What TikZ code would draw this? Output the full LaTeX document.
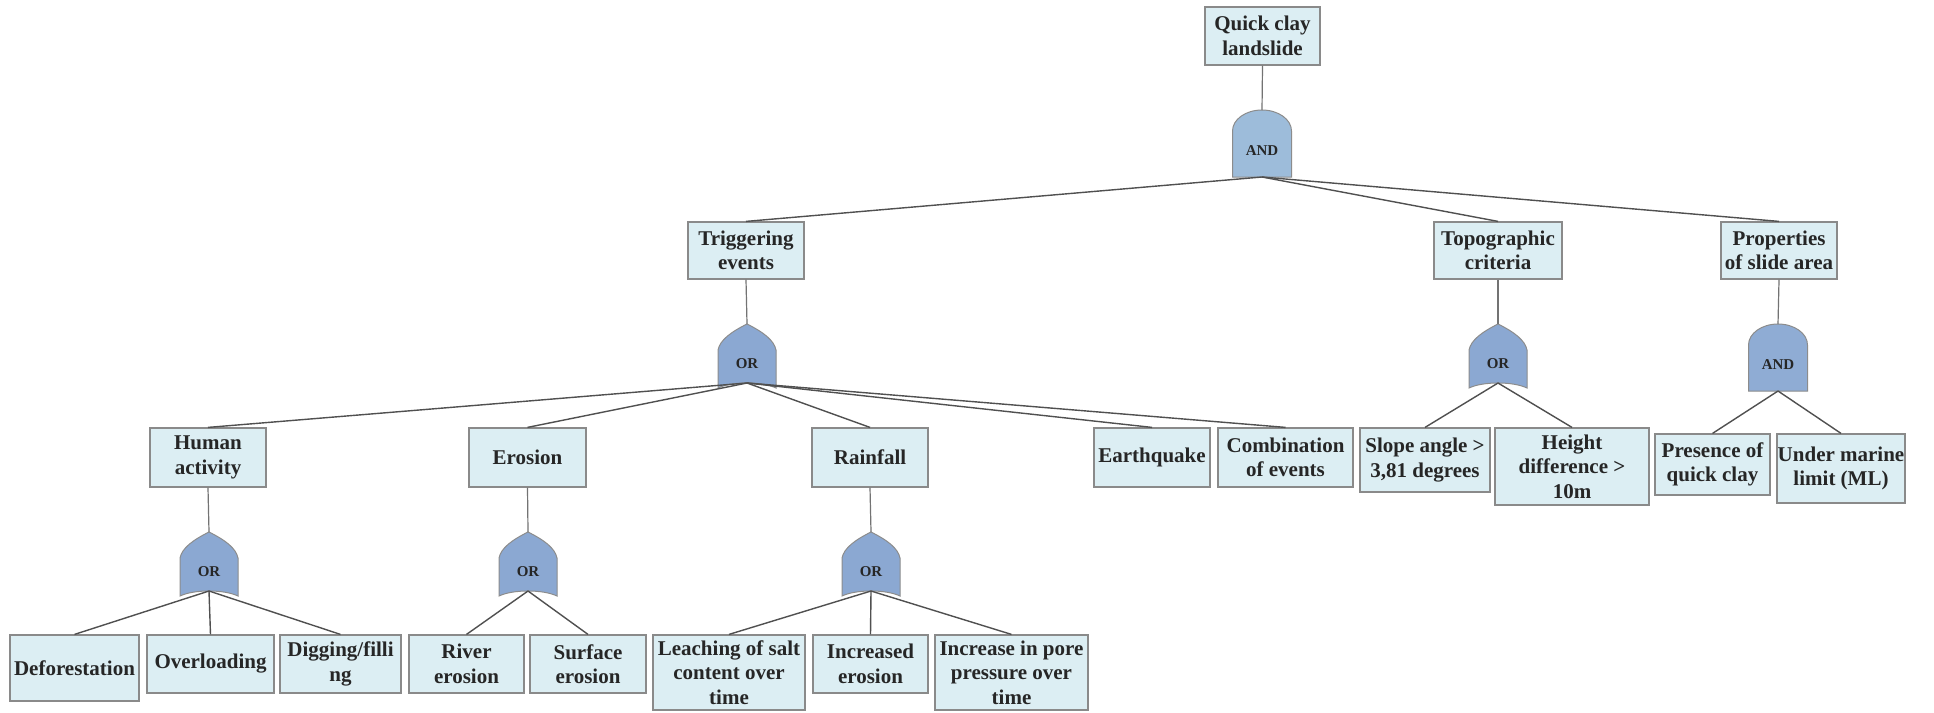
\documentclass[tikz,border=0pt]{standalone}
\usepackage{fontspec}
\setmainfont{Liberation Serif}
\usetikzlibrary{shadows}

\definecolor{boxfill}{HTML}{DCEEF3}
\definecolor{boxline}{HTML}{8A8A8A}
\definecolor{orfill}{HTML}{8BA8D2}
\definecolor{andfill}{HTML}{9DBCDA}
\definecolor{andfilltwo}{HTML}{8FACD4}
\definecolor{wire}{HTML}{505050}
\definecolor{txt}{HTML}{262626}

\tikzset{
  ev/.style={draw=boxline, fill=boxfill, line width=1.2pt, inner sep=0pt,
    align=center, font=\fontsize{21}{24.5}\selectfont\bfseries, text=txt,
    drop shadow={shadow xshift=1.2pt, shadow yshift=-1.2pt, fill=black!55, opacity=0.7}},
  wirelink/.style={draw=wire, line width=1.4pt},
  stem/.style={draw=black!55, line width=1.2pt},
  gatelbl/.style={font=\fontsize{15}{15}\selectfont\bfseries, text=txt, inner sep=0pt},
  gateshape/.style={draw=black!45, line width=1pt},
  pics/orgate/.style={code={
    \path[gateshape, fill=orfill]
      (0,-32) .. controls (16,-24) and (27,-16) .. (29,-6) -- (29,32)
      .. controls (15,25.3) and (-15,25.3) .. (-29,32) -- (-29,-6)
      .. controls (-27,-16) and (-16,-24) .. (0,-32) -- cycle;
    \node[gatelbl] at (0,8) {OR};
    \coordinate (-top) at (0,-32);
    \coordinate (-bot) at (0,27);
  }},
  pics/andgate/.style={code={
    \path[gateshape, fill=#1]
      (-29.5,33.5) -- (-29.5,-12.5)
      arc[start angle=180, end angle=360, x radius=29.5, y radius=21]
      -- (29.5,33.5) -- cycle;
    \node[gatelbl] at (0,7) {AND};
    \coordinate (-top) at (0,-33.5);
    \coordinate (-bot) at (0,33.5);
  }},
}

\begin{document}
\begin{tikzpicture}[x=1pt, y=-1pt]
  \useasboundingbox[fill=white] (0,0) rectangle (1934,712);

  % top event
  \node[ev, minimum width=115pt, minimum height=58pt] (top) at (1262.5,36) {Quick clay\\landslide};

  % intermediate events
  \node[ev, minimum width=116pt, minimum height=57pt] (trig)  at (746,250.5)  {Triggering\\events};
  \node[ev, minimum width=128pt, minimum height=57pt] (topo)  at (1498,250.5) {Topographic\\criteria};
  \node[ev, minimum width=116pt, minimum height=57pt] (props) at (1779,250.5) {Properties\\of slide area};

  \node[ev, minimum width=116pt, minimum height=59pt] (human) at (208,457.5)   {Human\\activity};
  \node[ev, minimum width=117pt, minimum height=59pt] (eros)  at (527.5,457.5) {Erosion};
  \node[ev, minimum width=116pt, minimum height=59pt] (rain)  at (870,457.5)   {Rainfall};
  \node[ev, minimum width=116pt, minimum height=59pt] (quake) at (1152,457.5)  {Earthquake};
  \node[ev, minimum width=135pt, minimum height=59pt] (comb)  at (1285.5,457.5) {Combination\\of events};
  \node[ev, minimum width=130pt, minimum height=64pt] (slope) at (1425,460)    {Slope angle >\\3,81 degrees};
  \node[ev, minimum width=154pt, minimum height=77pt] (hdiff) at (1572,466.5)  {Height\\difference >\\10m};
  \node[ev, minimum width=115pt, minimum height=61pt] (qclay) at (1712.5,464.5) {Presence of\\quick clay};
  \node[ev, minimum width=128pt, minimum height=69pt] (marine) at (1841,468.5) {Under marine\\limit (ML)};

  % basic events
  \node[ev, minimum width=129pt, minimum height=66pt] (defor) at (74.5,668)  {Deforestation};
  \node[ev, minimum width=127pt, minimum height=58pt] (overl) at (210.5,664) {Overloading};
  \node[ev, minimum width=121pt, minimum height=58pt] (digg)  at (340.5,664) {Digging/filli\\ng};
  \node[ev, minimum width=115pt, minimum height=58pt] (river) at (466.5,664) {River\\erosion};
  \node[ev, minimum width=116pt, minimum height=58pt] (surf)  at (588,664)   {Surface\\erosion};
  \node[ev, minimum width=152pt, minimum height=75pt] (leach) at (729,672.5) {Leaching of salt\\content over\\time};
  \node[ev, minimum width=115pt, minimum height=58pt] (incer) at (870.5,664) {Increased\\erosion};
  \node[ev, minimum width=153pt, minimum height=75pt] (pore)  at (1011.5,672.5) {Increase in pore\\pressure over\\time};

  % gates
  \pic (gtop)   at (1262,143.5) {andgate=andfill};
  \pic (gtrig)  at (747,356)    {orgate};
  \pic (gtopo)  at (1498,356)   {orgate};
  \pic (gprops) at (1778,357.5) {andgate=andfilltwo};
  \pic (ghuman) at (209,564)    {orgate};
  \pic (geros)  at (528,564)    {orgate};
  \pic (grain)  at (871,564)    {orgate};

  % stems from events to their gates
  \foreach \ev/\g in {top/gtop, trig/gtrig, topo/gtopo, props/gprops,
                      human/ghuman, eros/geros, rain/grain}
    \draw[stem] (\ev.south) -- (\g-top);

  % gate inputs
  \foreach \c in {trig, topo, props}
    \draw[wirelink] (gtop-bot) -- (\c.north);
  \foreach \c in {human, eros, rain, quake, comb}
    \draw[wirelink] (gtrig-bot) -- (\c.north);
  \foreach \c in {slope, hdiff}
    \draw[wirelink] (gtopo-bot) -- (\c.north);
  \foreach \c in {qclay, marine}
    \draw[wirelink] (gprops-bot) -- (\c.north);
  \foreach \c in {defor, overl, digg}
    \draw[wirelink] (ghuman-bot) -- (\c.north);
  \foreach \c in {river, surf}
    \draw[wirelink] (geros-bot) -- (\c.north);
  \foreach \c in {leach, incer, pore}
    \draw[wirelink] (grain-bot) -- (\c.north);
\end{tikzpicture}
\end{document}
